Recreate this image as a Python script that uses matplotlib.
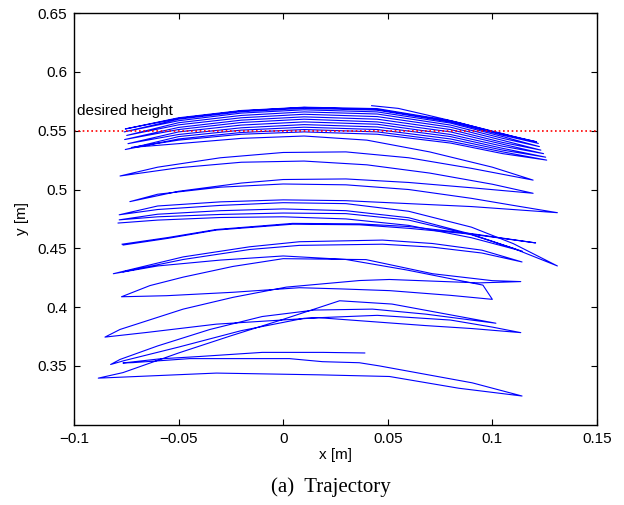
import matplotlib
matplotlib.use("Agg")
import numpy as np
import matplotlib.pyplot as plt

# ------------------------------------------------------------------
# Trajectory data (x [m], y [m])
# ------------------------------------------------------------------

# lower part: starts at the dot near (0.039, 0.361)
lower_strokes = [
    [(0.039, 0.361), (0.019, 0.3615), (-0.010, 0.3615), (-0.040, 0.358), (-0.059, 0.356), (-0.0766, 0.3525)],
    [(-0.0718, 0.3528), (-0.0447, 0.3562), (0.003, 0.3562), (0.0188, 0.3536), (0.0364, 0.3527),
     (0.046, 0.350), (0.0904, 0.3356), (0.1142, 0.3244)],
    [(0.084, 0.331), (0.0508, 0.341), (0.0174, 0.3424), (-0.0319, 0.3439), (-0.0884, 0.3396)],
    [(-0.0766, 0.3443), (-0.050, 0.361), (-0.025, 0.3756), (0.000, 0.3896), (0.027, 0.4054),
     (0.052, 0.4026), (0.1017, 0.3863)],
    [(0.0683, 0.394), (0.0427, 0.3983), (0.015, 0.3975), (-0.010, 0.392), (-0.035, 0.381),
     (-0.060, 0.367), (-0.078, 0.3555), (-0.0825, 0.3512)],
    [(-0.076, 0.3545), (-0.050, 0.366), (-0.020, 0.380), (0.010, 0.3905), (0.045, 0.393),
     (0.080, 0.389), (0.100, 0.383), (0.1136, 0.3783)],
    [(0.090, 0.3818), (0.068, 0.3843), (0.017, 0.391), (-0.032, 0.3855), (-0.065, 0.3785), (-0.0852, 0.3745)],
    [(-0.078, 0.381), (-0.0478, 0.3983), (-0.024, 0.4083), (0.0015, 0.417), (0.0365, 0.4226),
     (0.0508, 0.4235), (0.0937, 0.4206), (0.1136, 0.4217)],
    [(0.100, 0.4225), (0.0714, 0.4284), (0.0396, 0.4404), (0.000, 0.4412), (-0.024, 0.4346),
     (-0.0478, 0.4255), (-0.0637, 0.4183), (-0.0773, 0.4088)],
    [(-0.0558, 0.4097), (-0.0241, 0.4126), (0.0078, 0.4165), (0.0272, 0.4155), (0.051, 0.414),
     (0.080, 0.410), (0.100, 0.4066)],
    [(0.0955, 0.4187), (0.059, 0.4316), (0.030, 0.4405), (0.000, 0.4435), (-0.030, 0.4400),
     (-0.060, 0.4350), (-0.0812, 0.4284)],
    [(-0.0478, 0.4427), (-0.016, 0.4513), (0.0078, 0.4556), (0.0475, 0.457), (0.0713, 0.4541),
     (0.0951, 0.4484), (0.1142, 0.4384)],
    [(0.095, 0.446), (0.0713, 0.451), (0.0475, 0.4535), (0.0078, 0.4525), (-0.016, 0.449),
     (-0.0478, 0.4405), (-0.0765, 0.4300)],
]

# the heavy stroke that is drawn there and back
thick_strokes = [
    [(-0.0765, 0.4528), (-0.055, 0.4585), (-0.032, 0.4655), (0.0045, 0.4705), (0.0365, 0.4700),
     (0.060, 0.4670), (0.090, 0.4620), (0.1207, 0.4546)],
    [(0.090, 0.4625), (0.060, 0.4685), (0.0365, 0.4708), (0.0045, 0.4712), (-0.032, 0.4660),
     (-0.055, 0.4592), (-0.0770, 0.4535)],
]

# upper part: swings growing up to the desired height
upper_strokes = [
    [(-0.0789, 0.4715), (-0.06, 0.4740), (-0.03, 0.4762), (0.00, 0.4768), (0.03, 0.4750),
     (0.06, 0.4695), (0.09, 0.4590), (0.1144, 0.4475)],
    [(0.09, 0.4615), (0.06, 0.4740), (0.03, 0.4795), (0.00, 0.4800), (-0.03, 0.4788),
     (-0.06, 0.4768), (-0.0784, 0.4742)],
    [(-0.06, 0.4790), (-0.03, 0.4820), (0.00, 0.4835), (0.03, 0.4820), (0.06, 0.4760),
     (0.09, 0.4620), (0.11, 0.4500), (0.1311, 0.4350)],
    [(0.11, 0.4540), (0.09, 0.4680), (0.06, 0.4815), (0.03, 0.4880), (0.00, 0.4888),
     (-0.03, 0.4865), (-0.06, 0.4830), (-0.0784, 0.4785)],
    [(-0.06, 0.4860), (-0.03, 0.4895), (0.00, 0.4912), (0.03, 0.4905), (0.06, 0.4880),
     (0.09, 0.4855), (0.11, 0.4830), (0.1311, 0.4803)],
    [(0.11, 0.4865), (0.09, 0.4925), (0.06, 0.5000), (0.03, 0.5040), (0.00, 0.5047),
     (-0.03, 0.5020), (-0.06, 0.4960), (-0.0733, 0.4897)],
    [(-0.05, 0.4985), (-0.02, 0.5055), (0.00, 0.5085), (0.03, 0.5090), (0.06, 0.5060),
     (0.09, 0.5015), (0.1195, 0.4968)],
    [(0.10, 0.5045), (0.07, 0.5140), (0.04, 0.5210), (0.01, 0.5242), (-0.02, 0.5232),
     (-0.05, 0.5185), (-0.078, 0.5115)],
    [(-0.06, 0.5190), (-0.03, 0.5270), (0.00, 0.5315), (0.03, 0.5320), (0.06, 0.5270),
     (0.09, 0.5180), (0.1195, 0.5080)],
    [(0.10, 0.5190), (0.07, 0.5320), (0.04, 0.5420), (0.01, 0.5455), (-0.02, 0.5435),
     (-0.05, 0.5390), (-0.0725, 0.5358)],
    # dense band around 0.55
    [(-0.05, 0.5420), (-0.02, 0.5470), (0.01, 0.5490), (0.045, 0.5470), (0.08, 0.5395),
     (0.105, 0.5305), (0.126, 0.5250)],
    [(0.105, 0.5320), (0.08, 0.5410), (0.045, 0.5490), (0.01, 0.5510), (-0.02, 0.5485),
     (-0.05, 0.5430), (-0.0755, 0.5340)],
    [(-0.05, 0.5450), (-0.02, 0.5505), (0.01, 0.5530), (0.045, 0.5510), (0.08, 0.5430),
     (0.105, 0.5335), (0.1255, 0.5275)],
    [(0.105, 0.5350), (0.08, 0.5450), (0.045, 0.5532), (0.01, 0.5552), (-0.02, 0.5525),
     (-0.05, 0.5468), (-0.0742, 0.5390)],
    [(-0.05, 0.5490), (-0.02, 0.5548), (0.01, 0.5575), (0.045, 0.5555), (0.08, 0.5468),
     (0.105, 0.5368), (0.1245, 0.5305)],
    [(0.105, 0.5385), (0.08, 0.5490), (0.045, 0.5575), (0.01, 0.5598), (-0.02, 0.5570),
     (-0.05, 0.5510), (-0.0758, 0.5425)],
    [(-0.05, 0.5528), (-0.02, 0.5590), (0.01, 0.5618), (0.045, 0.5598), (0.08, 0.5510),
     (0.105, 0.5400), (0.1232, 0.5335)],
    [(0.105, 0.5418), (0.08, 0.5530), (0.045, 0.5620), (0.01, 0.5640), (-0.02, 0.5610),
     (-0.05, 0.5550), (-0.0748, 0.5460)],
    [(-0.05, 0.5568), (-0.02, 0.5630), (0.01, 0.5660), (0.045, 0.5642), (0.08, 0.5548),
     (0.105, 0.5435), (0.1225, 0.5365)],
    [(0.105, 0.5450), (0.08, 0.5565), (0.045, 0.5660), (0.01, 0.5678), (-0.02, 0.5650),
     (-0.05, 0.5585), (-0.0760, 0.5490)],
    [(-0.05, 0.5598), (-0.02, 0.5662), (0.01, 0.5690), (0.045, 0.5675), (0.08, 0.5575),
     (0.105, 0.5462), (0.1220, 0.5392)],
    [(0.105, 0.5475), (0.08, 0.5585), (0.045, 0.5688), (0.01, 0.5700), (-0.02, 0.5672),
     (-0.05, 0.5610), (-0.0755, 0.5515)],
    [(-0.05, 0.5605), (-0.02, 0.5668), (0.01, 0.5698), (0.045, 0.5680), (0.08, 0.5580),
     (0.105, 0.5468), (0.1211, 0.5406)],
    # last swing ends up in the air
    [(0.1004, 0.5492), (0.085, 0.5565), (0.0687, 0.5634), (0.055, 0.5690), (0.0423, 0.5713)],
]

desired_height = 0.55
x_ticks = [-0.1, -0.05, 0, 0.05, 0.1, 0.15]
x_tick_labels = ["\u22120.1", "\u22120.05", "0", "0.05", "0.1", "0.15"]
y_ticks = [0.35, 0.4, 0.45, 0.5, 0.55, 0.6, 0.65]
y_tick_labels = ["0.35", "0.4", "0.45", "0.5", "0.55", "0.6", "0.65"]


def join(strokes):
    """Concatenate strokes into one continuous path."""
    pts = np.array([p for s in strokes for p in s])
    return pts[:, 0], pts[:, 1]


plt.rcParams["font.family"] = ["Liberation Sans", "DejaVu Sans"]

fig = plt.figure(figsize=(6.24, 5.05), dpi=100)
ax = fig.add_axes([0.1186, 0.159, 0.838, 0.815])

for strokes in (lower_strokes, thick_strokes, upper_strokes):
    x, y = join(strokes)
    ax.plot(x, y, color=(0, 0, 1), linewidth=0.8)

# reference height, MATLAB-style red dotted line
ax.axhline(desired_height, color="red", linestyle=(0, (1, 1.6)), linewidth=1.2)
ax.text(-0.0985, 0.5665, "desired height", fontsize=11, va="center", ha="left")

ax.set_xlim(-0.1, 0.15)
ax.set_ylim(0.3, 0.65)
ax.set_xticks(x_ticks)
ax.set_xticklabels(x_tick_labels)
ax.set_yticks(y_ticks)
ax.set_yticklabels(y_tick_labels)
ax.tick_params(direction="in", top=True, right=True, length=4, width=0.8, labelsize=11, pad=5)
for sp in ax.spines.values():
    sp.set_linewidth(1.0)

ax.set_xlabel("x [m]", fontsize=11, labelpad=2)
ax.set_ylabel("y [m]", fontsize=11, labelpad=6)

fig.text(0.53, 0.036, "(a)  Trajectory", fontsize=15, ha="center", va="center",
         family=["Liberation Serif", "DejaVu Serif"])

fig.savefig("out.png", dpi=100)
